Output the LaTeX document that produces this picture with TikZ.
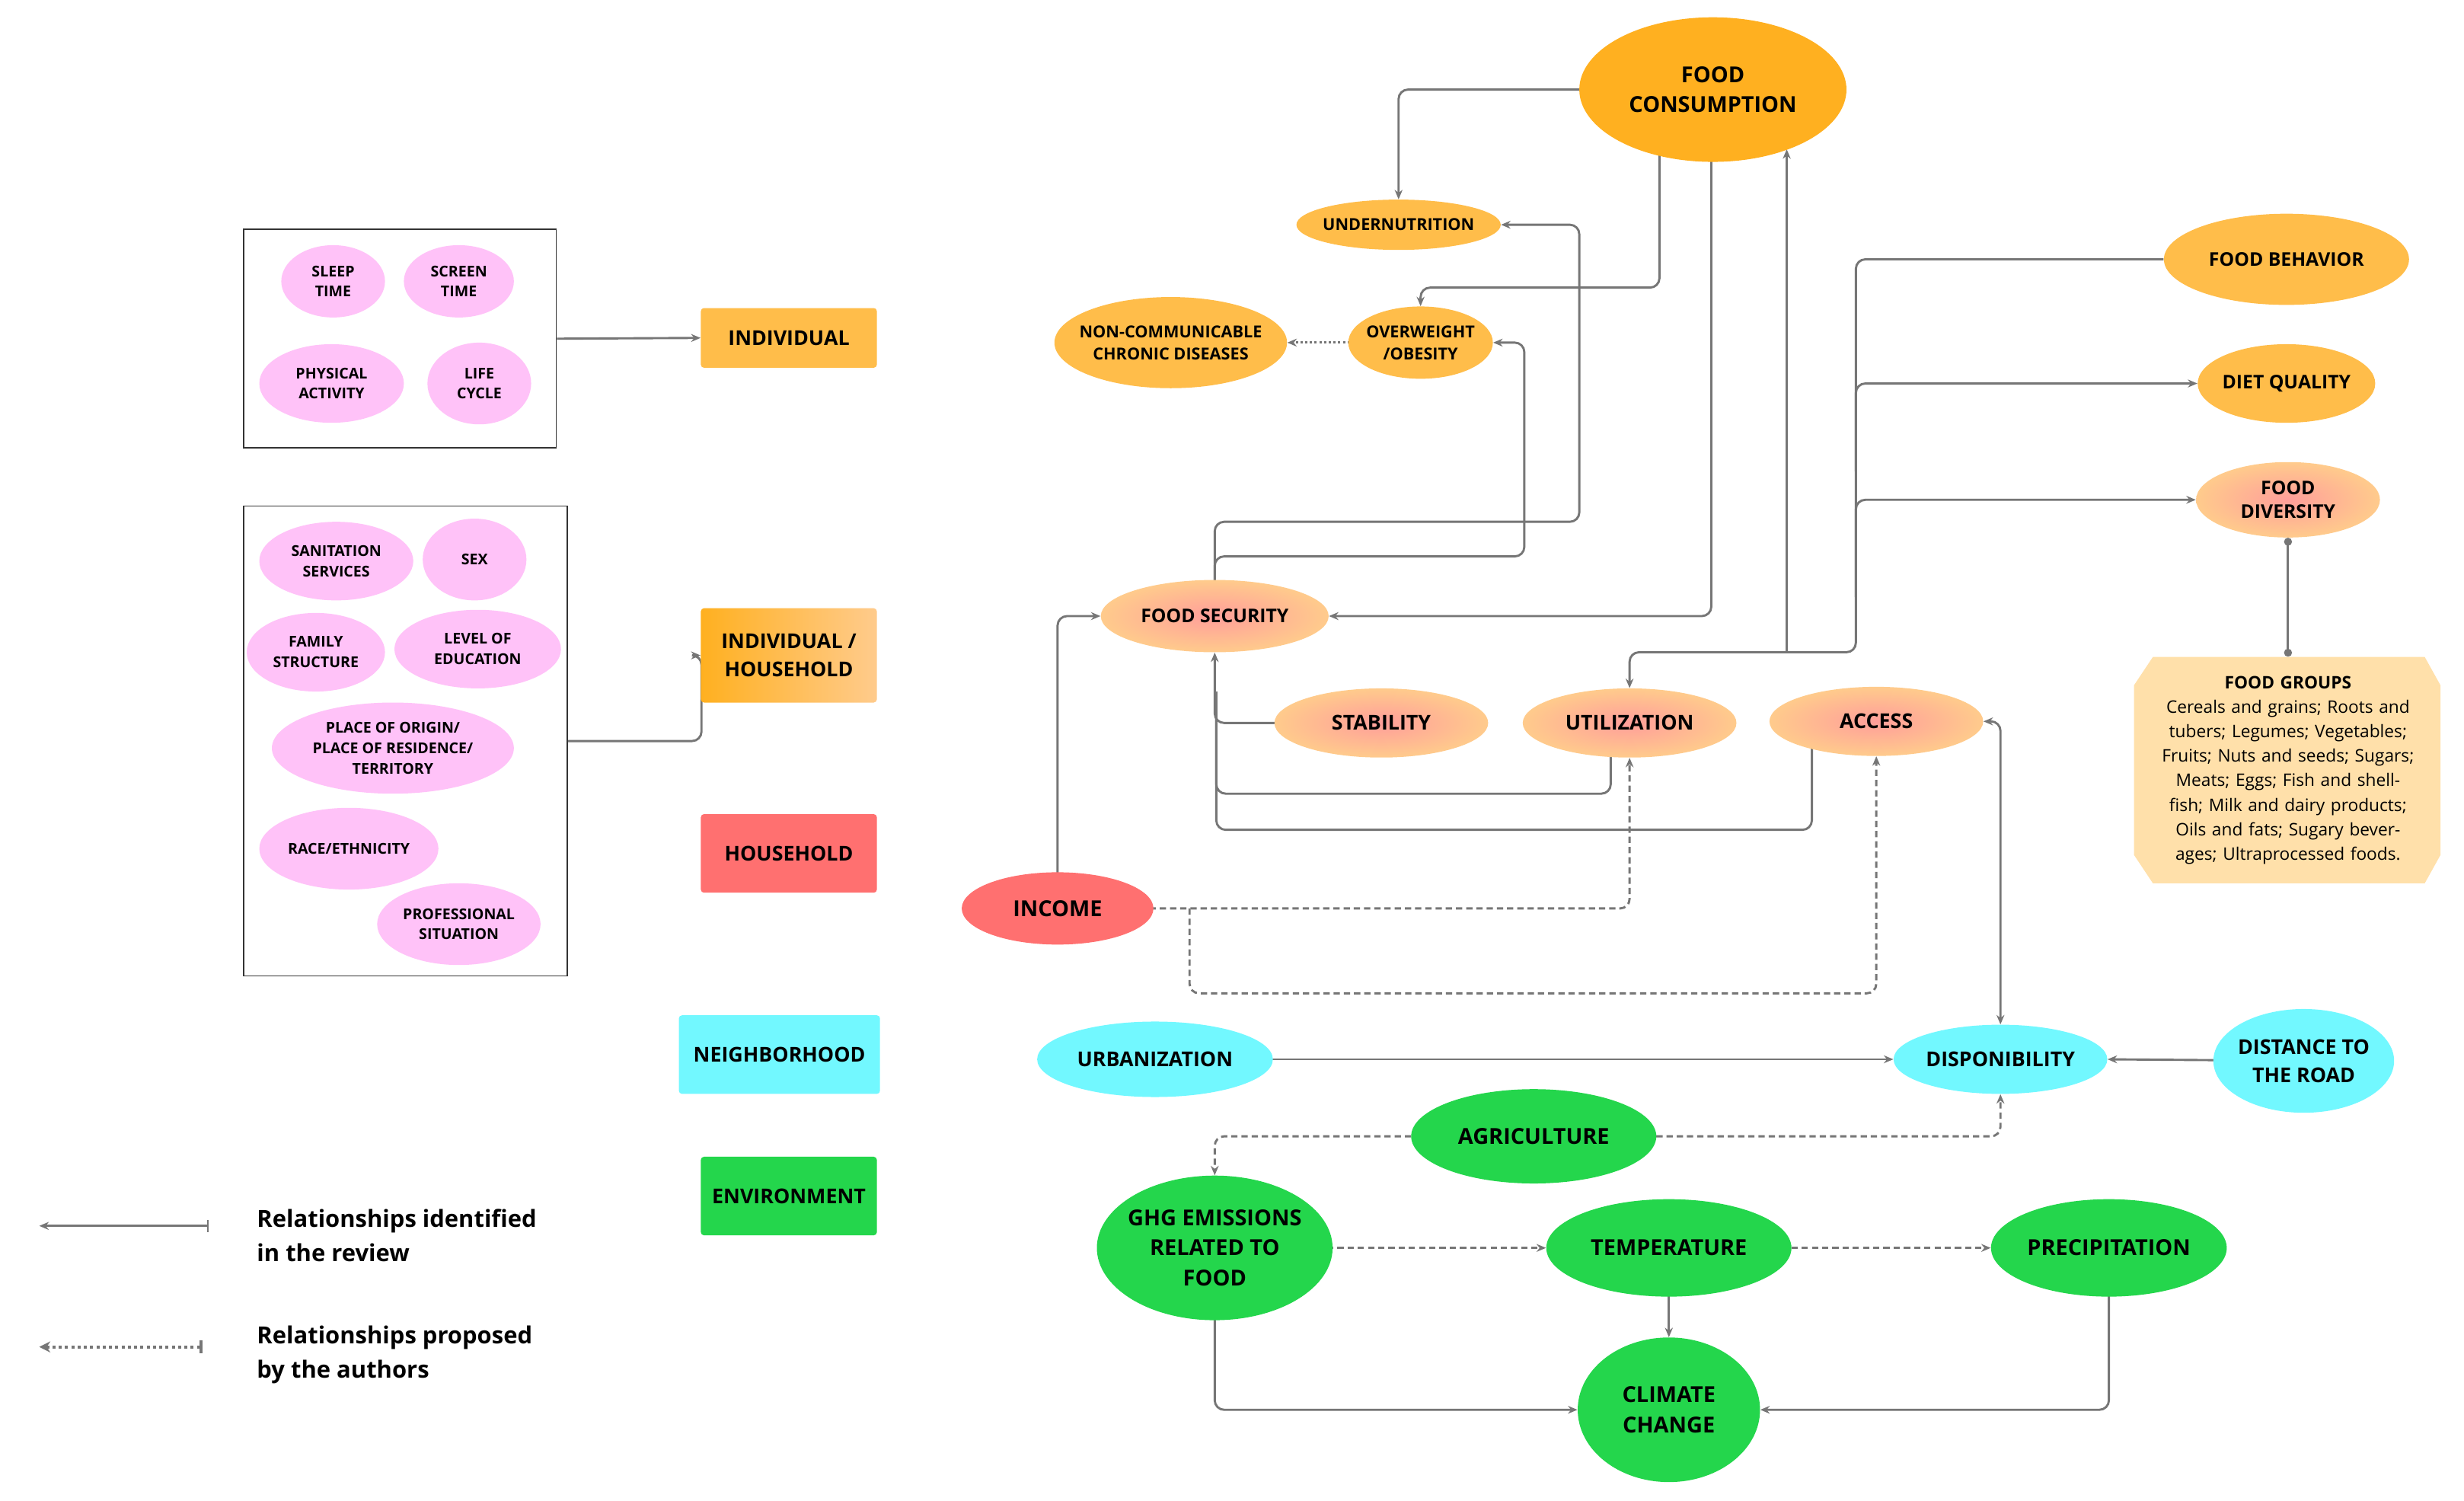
\documentclass[tikz,border=0pt]{standalone}
\usepackage{fontspec}
\setmainfont{Open Sans}
\usetikzlibrary{shapes.geometric,shapes.misc,arrows.meta,backgrounds,calc}
\definecolor{ln}{HTML}{767676}
\definecolor{fcc}{HTML}{FFB020}
\definecolor{org}{HTML}{FFBD4A}
\definecolor{pk}{HTML}{FFC2F8}
\definecolor{peach}{HTML}{FFCB8C}
\definecolor{rose}{HTML}{FF9E9A}
\definecolor{red}{HTML}{FF7070}
\definecolor{cy}{HTML}{72F8FF}
\definecolor{gr}{HTML}{24D64C}
\definecolor{fg}{HTML}{FFE0AA}
\begin{document}
\begin{tikzpicture}[x=1pt,y=-1pt,
 lab/.style={font=\bfseries\fontsize{12}{15}\selectfont,align=center,inner sep=0},
 el/.style={ellipse,inner sep=0,draw=none},
 grad/.style={el,inner color=rose,outer color=peach},
 sq/.style={rectangle,rounded corners=2pt,minimum width=112,inner sep=0,font=\bfseries\fontsize{13}{18}\selectfont,align=center},
 cn/.style={draw=ln,line width=1.4pt,rounded corners=6pt,>={Stealth[length=6pt,width=5pt]}},
 dsh/.style={cn,dash pattern=on 4pt off 2.5pt},
 dot/.style={cn,dash pattern=on 1.5pt off 1.5pt}]
\useasboundingbox (0,0) rectangle (1568,955);
% main nodes
\newcommand{\E}[7]{\node[#1,minimum width=#4,minimum height=#5,label={[lab,#7]center:#6}] (#2) at #3 {};}
\E{el,fill=fcc}{fc}{(1090,57)}{170}{92}{FOOD\\CONSUMPTION}{font=\bfseries\fontsize{14}{19}\selectfont}
\E{el,fill=org}{und}{(890,143)}{130}{32}{UNDERNUTRITION}{font=\bfseries\fontsize{10.5}{13}\selectfont}
\E{el,fill=org}{ncd}{(745,218)}{148}{58}{NON-COMMUNICABLE\\CHRONIC DISEASES}{font=\bfseries\fontsize{10.5}{14}\selectfont}
\E{el,fill=org}{ow}{(904,218)}{92}{46}{OVERWEIGHT\\/OBESITY}{font=\bfseries\fontsize{10.5}{14}\selectfont}
\E{el,fill=org}{fb}{(1455,165)}{156}{58}{FOOD BEHAVIOR}{}
\E{el,fill=org}{dq}{(1455,244)}{113}{50}{DIET QUALITY}{}
\E{grad}{fd}{(1456,318)}{117}{48}{FOOD\\DIVERSITY}{}
\E{grad}{fs}{(773,392)}{145}{46}{FOOD SECURITY}{}
\E{grad}{stab}{(879,460)}{136}{44}{STABILITY}{font=\bfseries\fontsize{13}{16}\selectfont}
\E{grad}{util}{(1037,460)}{136}{44}{UTILIZATION}{font=\bfseries\fontsize{13}{16}\selectfont}
\E{grad}{acc}{(1194,459)}{136}{44}{ACCESS}{font=\bfseries\fontsize{13}{16}\selectfont}
\E{el,fill=red}{inc}{(673,578)}{122}{46}{INCOME}{font=\bfseries\fontsize{14}{16}\selectfont}
\E{el,fill=cy}{urb}{(735,674)}{150}{48}{URBANIZATION}{font=\bfseries\fontsize{13}{16}\selectfont}
\E{el,fill=cy}{disp}{(1273,674)}{136}{44}{DISPONIBILITY}{font=\bfseries\fontsize{13}{16}\selectfont}
\E{el,fill=cy}{dist}{(1466,675)}{115}{66}{DISTANCE TO\\THE ROAD}{font=\bfseries\fontsize{13}{18}\selectfont}
\E{el,fill=gr}{agr}{(976,723)}{156}{60}{AGRICULTURE}{font=\bfseries\fontsize{14}{16}\selectfont}
\E{el,fill=gr}{ghg}{(773,794)}{150}{92}{GHG EMISSIONS\\RELATED TO\\FOOD}{font=\bfseries\fontsize{14}{19}\selectfont}
\E{el,fill=gr}{temp}{(1062,794)}{156}{62}{TEMPERATURE}{font=\bfseries\fontsize{14}{16}\selectfont}
\E{el,fill=gr}{prec}{(1342,794)}{150}{62}{PRECIPITATION}{font=\bfseries\fontsize{14}{16}\selectfont}
\E{el,fill=gr}{cc}{(1062,897)}{116}{92}{CLIMATE\\CHANGE}{font=\bfseries\fontsize{14}{19}\selectfont}
% food groups
\fill[fg] (1370,418) -- (1543,418) -- (1553,436) -- (1553,544) -- (1543,562) -- (1370,562) -- (1358,544) -- (1358,436) -- cycle;
\node[inner sep=0,minimum width=195,minimum height=144,
  label={[align=center,font=\fontsize{11}{15.6}\selectfont,text width=182]center:{\textbf{FOOD GROUPS}\\Cereals and grains; Roots and tubers; Legumes; Vegetables; Fruits; Nuts and seeds; Sugars; Meats; Eggs; Fish and shellfish; Milk and dairy products; Oils and fats; Sugary beverages; Ultraprocessed foods.}}] (fgp) at (1456,490) {};
% legend squares
\node[sq,fill=org,minimum height=38] (lind) at (502,215) {INDIVIDUAL};
\node[sq,left color=fcc,right color=peach,minimum height=60] (lih) at (502,417) {INDIVIDUAL /\\HOUSEHOLD};
\node[sq,fill=red,minimum height=50] (lh) at (502,543) {HOUSEHOLD};
\node[sq,fill=cy,minimum height=50,minimum width=128] (ln) at (496,671) {NEIGHBORHOOD};
\node[sq,fill=gr,minimum height=50] (le) at (502,761) {ENVIRONMENT};
% boxes
\node[draw=black!80,line width=0.8pt,minimum width=199,minimum height=139,inner sep=0] (b1) at (254.5,215.5) {};
\node[draw=black!80,line width=0.8pt,minimum width=206,minimum height=299,inner sep=0] (b2) at (258,471.5) {};
\tikzset{pl/.style={font=\bfseries\fontsize{9.5}{13}\selectfont}}
\E{el,fill=pk}{p1}{(212,179)}{66}{46}{SLEEP\\TIME}{pl}
\E{el,fill=pk}{p2}{(292,179)}{70}{46}{SCREEN\\TIME}{pl}
\E{el,fill=pk}{p3}{(211,244)}{92}{50}{PHYSICAL\\ACTIVITY}{pl}
\E{el,fill=pk}{p4}{(305,244)}{66}{52}{LIFE\\CYCLE}{pl}
\E{el,fill=pk}{q1}{(214,357)}{98}{50}{SANITATION\\SERVICES}{pl}
\E{el,fill=pk}{q2}{(302,356)}{66}{52}{SEX}{pl}
\E{el,fill=pk}{q3}{(201,415)}{88}{50}{FAMILY\\STRUCTURE}{pl}
\E{el,fill=pk}{q4}{(304,413)}{106}{50}{LEVEL OF\\EDUCATION}{pl}
\E{el,fill=pk}{q5}{(250,476)}{154}{58}{PLACE OF ORIGIN/\\PLACE OF RESIDENCE/\\TERRITORY}{pl}
\E{el,fill=pk}{q6}{(222,540)}{114}{52}{RACE/ETHNICITY}{pl}
\E{el,fill=pk}{q7}{(292,588)}{104}{52}{PROFESSIONAL\\SITUATION}{pl}
% legend
\coordinate (l1a) at (25,780); \coordinate (l1b) at (133,780);
\coordinate (l2a) at (25,857); \coordinate (l2b) at (129,857);
\draw[cn,{Stealth[length=6pt,width=5pt]}-{Bar[width=8pt]}] (l1a) -- (l1b);
\draw[cn,line width=2pt,dash pattern=on 2pt off 2pt,{Stealth[length=7pt,width=7pt]}-{Bar[width=8pt]}] (l2a) -- (l2b);
\node[anchor=west,align=left,font=\bfseries\fontsize{15}{22}\selectfont] (t1) at (160,786) {Relationships identified\\in the review};
\node[anchor=west,align=left,font=\bfseries\fontsize{15}{22}\selectfont] (t2) at (160,862) {Relationships proposed\\by the authors};
% connectors
\begin{scope}[on background layer]
\fill[white] (0,0) rectangle (1568,955);
\draw[cn,->] (b1.east) -- (lind.west);
\draw[cn,->] (b2.east) -- ++(85,0) |- (lih.west);
\draw[cn,->] (fc.center) -| (und.north);
\draw[cn,->] ($(fc)+(-34,0)$) |- (904,183) -- (ow.north);
\draw[cn,->] ($(fc)+(-1,0)$) |- (fs.east);
\draw[cn,<-] (util.north) |- (1181,415) |- (fb.west);
\draw[cn,->] (1181,300) |- (dq.west);
\draw[cn,->] (1181,380) |- (fd.west);
\draw[cn,->] (1137,415) -- (1137,95);
\draw[cn,->] (fs.center) |- (1005,332) |- (und.east);
\draw[cn,->] (fs.center) |- (970,354) |- (ow.east);
\draw[dot,->] (ow.center) -- (ncd.east);
\draw[cn,->] (inc.center) |- (fs.west);
\draw[cn,->] (stab.center) -| (fs.south);
\draw[cn] ($(util)+(-12,0)$) |- (774,505) -- (774,440);
\draw[cn] ($(acc)+(-41,0)$) |- (774,528) -- (774,440);
\draw[dsh,->] (inc.center) -| (util.south);
\draw[dsh,->] (757,578) |- (1194,632) -- (acc.south);
\draw[cn,<->] (acc.east) -| (disp.north);
\draw[cn,->] (urb.center) -- (disp.west);
\draw[cn,->] (dist.center) -- (disp.east);
\draw[dsh,->] (agr.center) -| (ghg.north);
\draw[dsh,->] (agr.center) -| (disp.south);
\draw[dsh,->] (ghg.center) -- (temp.west);
\draw[dsh,->] (temp.center) -- (prec.west);
\draw[cn,->] (temp.center) -- (cc.north);
\draw[cn,->] (ghg.center) |- (cc.west);
\draw[cn,->] (prec.center) |- (cc.east);
\draw[cn,{Circle[length=5pt]}-{Circle[length=5pt]}] (fd.south) -- (fgp.north);
\end{scope}
\end{tikzpicture}
\end{document}
